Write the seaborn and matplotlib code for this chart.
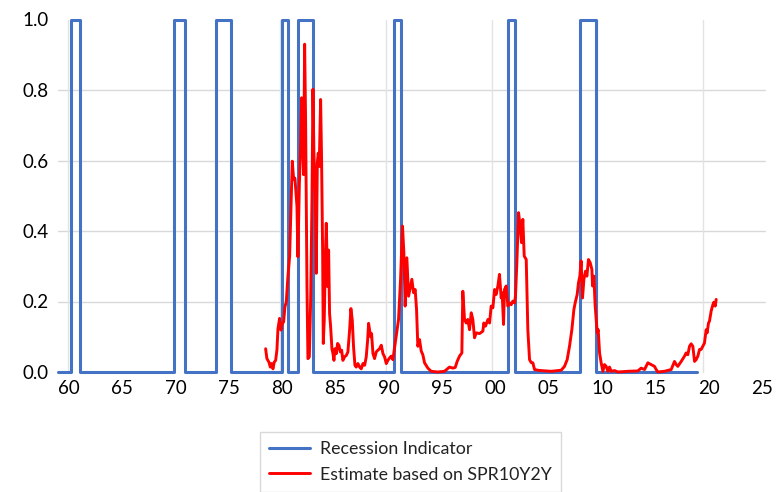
import numpy as np
import pandas as pd
import matplotlib
matplotlib.use("Agg")
import matplotlib.pyplot as plt
import seaborn as sns

# ---------------- data ----------------
# Recession indicator (0/1), periods in decimal years
rec_first = 1959.0
rec_last = 2018.96
rec_start = [1960.19, 1969.90, 1973.84, 1980.03, 1981.48, 1990.54, 2001.18, 2007.94]
rec_end = [1961.08, 1970.88, 1975.20, 1980.54, 1982.94, 1991.19, 2001.89, 2009.48]

# Estimate based on SPR10Y2Y
est_year = [
    1978.45, 1978.57, 1978.76, 1978.89, 1979.01, 1979.14, 1979.26, 1979.39, 1979.51, 1979.61,
    1979.76, 1979.89, 1980.01, 1980.14, 1980.26, 1980.39, 1980.54, 1980.70, 1980.83, 1980.95,
    1981.08, 1981.20, 1981.30, 1981.39, 1981.48, 1981.61, 1981.73, 1981.83, 1981.92, 1982.01,
    1982.11, 1982.20, 1982.33, 1982.42, 1982.55, 1982.67, 1982.80, 1982.89, 1982.98, 1983.11,
    1983.20, 1983.30, 1983.39, 1983.48, 1983.61, 1983.70, 1983.80, 1983.86, 1983.95, 1984.05,
    1984.14, 1984.27, 1984.36, 1984.45, 1984.55, 1984.67, 1984.77, 1984.86, 1984.95, 1985.08,
    1985.20, 1985.33, 1985.45, 1985.58, 1985.70, 1985.86, 1986.02, 1986.17, 1986.33, 1986.45,
    1986.58, 1986.70, 1986.83, 1986.95, 1987.11, 1987.27, 1987.42, 1987.58, 1987.74, 1987.89,
    1988.02, 1988.11, 1988.21, 1988.30, 1988.39, 1988.52, 1988.67, 1988.83, 1988.99, 1989.14,
    1989.30, 1989.46, 1989.61, 1989.77, 1989.92, 1990.08,
    1990.23, 1990.39, 1990.70, 1990.92, 1991.11, 1991.29, 1991.42, 1991.54, 1991.70, 1991.86,
    1992.05, 1992.17, 1992.33, 1992.48, 1992.61, 1992.73, 1992.89, 1993.05, 1993.20, 1993.36,
    1993.67, 1993.98, 1994.61, 1995.23, 1995.70, 1996.02, 1996.24, 1996.42, 1996.64, 1996.86,
    1996.95, 1997.11, 1997.27, 1997.42, 1997.58, 1997.74, 1997.89, 1998.05, 1998.21, 1998.52,
    1998.83, 1998.92, 1999.08, 1999.30, 1999.46, 1999.61, 1999.77, 1999.93, 2000.08, 2000.24,
    2000.39, 2000.55, 2000.64, 2000.77, 2000.86, 2001.02, 2001.18, 2001.33, 2001.49, 2001.64,
    2001.80, 2001.89, 2002.02, 2002.18, 2002.33, 2002.46, 2002.58, 2002.71, 2002.90, 2003.05,
    2003.21, 2003.36, 2003.52, 2003.68, 2003.99, 2004.30, 2005.24, 2006.18, 2006.49, 2006.74,
    2006.96, 2007.18, 2007.37, 2007.49, 2007.68, 2007.80, 2007.93, 2008.05, 2008.18, 2008.31,
    2008.46, 2008.59, 2008.74, 2008.90, 2009.06, 2009.12, 2009.24, 2009.37, 2009.46, 2009.56,
    2009.65, 2009.78, 2009.93, 2010.09, 2010.24, 2010.40, 2010.56, 2010.71, 2010.87, 2011.18,
    2011.50, 2012.43, 2013.37, 2013.68, 2014.00, 2014.31, 2014.62, 2014.93, 2015.09, 2015.25,
    2015.87, 2016.50, 2016.81, 2016.97, 2017.12, 2017.44, 2017.75, 2017.90, 2018.06, 2018.22,
    2018.37, 2018.53, 2018.69, 2018.84, 2019.00, 2019.16, 2019.31, 2019.47, 2019.62, 2019.78,
    2019.87, 2020.00, 2020.09, 2020.25, 2020.41, 2020.50, 2020.63, 2020.72,
]
est_value = [
    0.066, 0.038, 0.028, 0.014, 0.024, 0.009, 0.028, 0.033, 0.062, 0.123,
    0.152, 0.119, 0.138, 0.142, 0.185, 0.199, 0.270, 0.327, 0.470, 0.598,
    0.546, 0.550, 0.508, 0.470, 0.327, 0.527, 0.640, 0.778, 0.669, 0.560,
    0.930, 0.716, 0.242, 0.038, 0.043, 0.195, 0.489, 0.802, 0.621, 0.508,
    0.280, 0.593, 0.621, 0.583, 0.773, 0.602, 0.337, 0.081, 0.147, 0.318,
    0.422, 0.242, 0.346, 0.166, 0.128, 0.066, 0.052, 0.033, 0.066, 0.052,
    0.081, 0.076, 0.057, 0.062, 0.033, 0.043, 0.047, 0.057, 0.119, 0.180,
    0.147, 0.071, 0.019, 0.014, 0.024, 0.014, 0.009, 0.024, 0.019, 0.043,
    0.090, 0.138, 0.119, 0.100, 0.109, 0.052, 0.038, 0.057, 0.062, 0.066,
    0.076, 0.052, 0.043, 0.024, 0.033, 0.040,
    0.045, 0.035, 0.101, 0.149, 0.263, 0.414, 0.338, 0.187, 0.324, 0.215,
    0.244, 0.263, 0.225, 0.234, 0.177, 0.073, 0.092, 0.059, 0.049, 0.026,
    0.011, 0.002, 0.000, 0.002, 0.014, 0.011, 0.013, 0.030, 0.045, 0.054,
    0.229, 0.149, 0.139, 0.149, 0.120, 0.168, 0.149, 0.097, 0.111, 0.109,
    0.116, 0.139, 0.130, 0.149, 0.139, 0.187, 0.182, 0.234, 0.220, 0.244,
    0.277, 0.210, 0.225, 0.135, 0.234, 0.244, 0.187, 0.196, 0.191, 0.201,
    0.196, 0.215, 0.310, 0.452, 0.414, 0.367, 0.433, 0.329, 0.319, 0.120,
    0.035, 0.027, 0.026, 0.007, 0.005, 0.004, 0.002, 0.005, 0.016, 0.035,
    0.073, 0.120, 0.177, 0.196, 0.220, 0.253, 0.272, 0.315, 0.210, 0.263,
    0.286, 0.272, 0.319, 0.310, 0.291, 0.244, 0.272, 0.187, 0.149, 0.111,
    0.120, 0.054, 0.026, 0.002, 0.021, 0.016, 0.002, 0.014, 0.002, 0.004,
    0.000, 0.002, 0.003, 0.011, 0.007, 0.026, 0.021, 0.016, 0.007, 0.000,
    0.002, 0.007, 0.030, 0.021, 0.016, 0.030, 0.045, 0.054, 0.049, 0.073,
    0.080, 0.073, 0.030, 0.035, 0.045, 0.064, 0.064, 0.073, 0.082, 0.120,
    0.111, 0.139, 0.144, 0.173, 0.191, 0.198, 0.187, 0.206,
]

x_ticks = [1960, 1965, 1970, 1975, 1980, 1985, 1990, 1995, 2000, 2005, 2010, 2015, 2020, 2025]
x_tick_labels = ["60", "65", "70", "75", "80", "85", "90", "95", "00", "05", "10", "15", "20", "25"]
y_ticks = [0.0, 0.2, 0.4, 0.6, 0.8, 1.0]
y_tick_labels = ["0.0", "0.2", "0.4", "0.6", "0.8", "1.0"]
v_grid = [1959.9, 1969.85, 1979.8, 1989.75, 1999.7, 2009.55, 2019.5]

# ---------------- build step table for the indicator ----------------
rx, ry = [rec_first], [0.0]
for s, e in zip(rec_start, rec_end):
    rx += [s, s, e, e]
    ry += [0.0, 1.0, 1.0, 0.0]
rx.append(rec_last)
ry.append(0.0)
rec_df = pd.DataFrame({"year": rx, "value": ry})
est_df = pd.DataFrame({"year": est_year, "value": est_value})

# ---------------- plot ----------------
sns.set_style("white")
plt.rcParams["font.family"] = ["Lato", "DejaVu Sans"]

fig = plt.figure(figsize=(7.77, 4.92), dpi=100)
ax = fig.add_axes([58.3 / 777, 120 / 492, (765 - 58.3) / 777, 352.5 / 492])

# grid
for g in [0.2, 0.4, 0.6, 0.8]:
    ax.axhline(g, color="#d9d9d9", lw=1.0, zorder=0)
for g in v_grid:
    ax.axvline(g, color="#e3e3e3", lw=1.0, zorder=0)

sns.lineplot(data=rec_df, x="year", y="value", sort=False, estimator=None,
             color="#4472C4", lw=2.2, ax=ax, label="Recession Indicator", zorder=2)
sns.lineplot(data=est_df, x="year", y="value", sort=False, estimator=None,
             color="#FF0000", lw=2.1, ax=ax, label="Estimate based on SPR10Y2Y", zorder=3)
for ln in ax.lines:
    ln.set_clip_on(False)

ax.set_xlim(1959.0, 2025.3)
ax.set_ylim(0, 1)
ax.set_xticks(x_ticks)
ax.set_xticklabels(x_tick_labels)
ax.set_yticks(y_ticks)
ax.set_yticklabels(y_tick_labels)
ax.tick_params(axis="both", length=0, labelsize=13.5, colors="black")
ax.tick_params(axis="x", pad=6)
ax.tick_params(axis="y", pad=7)
ax.set_xlabel("")
ax.set_ylabel("")
for sp in ax.spines.values():
    sp.set_visible(False)

handles, labels = ax.get_legend_handles_labels()
ax.get_legend().remove()
leg = fig.legend(handles, labels, loc="upper left",
                 bbox_to_anchor=(260 / 777, 1 - 432 / 492), bbox_transform=fig.transFigure,
                 frameon=True, fancybox=False, framealpha=1, edgecolor="#d9d9d9",
                 fontsize=12.8, handlelength=2.3, handletextpad=0.6,
                 labelspacing=0.55, borderpad=0.5, borderaxespad=0)
leg.get_frame().set_linewidth(1.0)
for t in leg.get_texts():
    t.set_color("#222222")

fig.savefig("out.png", dpi=100)
